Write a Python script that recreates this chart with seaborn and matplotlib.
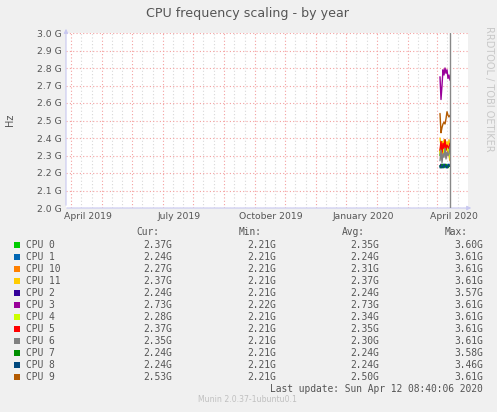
import numpy as np
import pandas as pd
import matplotlib
matplotlib.use('Agg')
import matplotlib.pyplot as plt
import seaborn as sns

# data (values in GHz, one point per day)
days = pd.date_range('2020-03-18', '2020-03-28', freq='D')
cpu_names = ['CPU 0', 'CPU 1', 'CPU 10', 'CPU 11', 'CPU 2', 'CPU 3',
             'CPU 4', 'CPU 5', 'CPU 6', 'CPU 7', 'CPU 8', 'CPU 9']
cpu_colors = ['#00cc00', '#0066b3', '#ff8000', '#ffcc00', '#330099', '#990099',
              '#ccff00', '#ff0000', '#808080', '#008f00', '#00487d', '#b35a00']
cpu0 = [2.30, 2.35, 2.38, 2.33, 2.36, 2.39, 2.34, 2.37, 2.35, 2.33, 2.37]
cpu1 = [2.24, 2.23, 2.24, 2.25, 2.24, 2.24, 2.23, 2.24, 2.25, 2.24, 2.24]
cpu10 = [2.33, 2.28, 2.35, 2.30, 2.32, 2.34, 2.29, 2.31, 2.33, 2.30, 2.27]
cpu11 = [2.40, 2.35, 2.38, 2.36, 2.39, 2.37, 2.36, 2.38, 2.35, 2.39, 2.37]
cpu2 = [2.24, 2.25, 2.23, 2.24, 2.24, 2.25, 2.24, 2.23, 2.24, 2.24, 2.24]
cpu3 = [2.75, 2.62, 2.70, 2.79, 2.76, 2.80, 2.77, 2.79, 2.74, 2.76, 2.73]
cpu4 = [2.32, 2.36, 2.33, 2.35, 2.31, 2.36, 2.34, 2.33, 2.35, 2.32, 2.28]
cpu5 = [2.33, 2.38, 2.32, 2.37, 2.34, 2.39, 2.33, 2.36, 2.35, 2.34, 2.37]
cpu6 = [2.27, 2.33, 2.26, 2.31, 2.29, 2.34, 2.28, 2.32, 2.30, 2.31, 2.35]
cpu7 = [2.24, 2.23, 2.25, 2.24, 2.23, 2.24, 2.25, 2.24, 2.23, 2.24, 2.24]
cpu8 = [2.23, 2.24, 2.24, 2.23, 2.25, 2.24, 2.24, 2.23, 2.24, 2.25, 2.24]
cpu9 = [2.54, 2.43, 2.46, 2.48, 2.49, 2.48, 2.51, 2.55, 2.53, 2.52, 2.53]
series = [cpu0, cpu1, cpu10, cpu11, cpu2, cpu3, cpu4, cpu5, cpu6, cpu7, cpu8, cpu9]

# legend table
cur_vals = ['2.37G', '2.24G', '2.27G', '2.37G', '2.24G', '2.73G',
            '2.28G', '2.37G', '2.35G', '2.24G', '2.24G', '2.53G']
min_vals = ['2.21G', '2.21G', '2.21G', '2.21G', '2.21G', '2.22G',
            '2.21G', '2.21G', '2.21G', '2.21G', '2.21G', '2.21G']
avg_vals = ['2.35G', '2.24G', '2.31G', '2.37G', '2.24G', '2.73G',
            '2.34G', '2.35G', '2.30G', '2.24G', '2.24G', '2.50G']
max_vals = ['3.60G', '3.61G', '3.61G', '3.61G', '3.57G', '3.61G',
            '3.61G', '3.61G', '3.61G', '3.58G', '3.46G', '3.61G']

yticks = np.round(np.arange(2.0, 3.01, 0.1), 1)
xtick_dates = pd.to_datetime(['2019-04-01', '2019-07-01', '2019-10-01', '2020-01-01', '2020-04-01'])
xtick_labels = ['April 2019', 'July 2019', 'October 2019', 'January 2020', 'April 2020']

rows = []
for name, vals in zip(cpu_names, series):
    for d, v in zip(days, vals):
        rows.append({'day': d, 'freq': v, 'cpu': name})
df = pd.DataFrame(rows)

sns.set_style('white')
plt.rcParams['font.family'] = ['DejaVu Sans']

fig = plt.figure(figsize=(4.97, 4.12), dpi=100, facecolor='#f0f0f0')
ax = fig.add_axes([66 / 497, 1 - 208 / 412, 402 / 497, 175 / 412])
ax.set_facecolor('white')

x0 = pd.Timestamp('2019-03-10')
x1 = pd.Timestamp('2020-04-15')

# grid like rrdtool: red dotted majors, grey dotted minors
for d in pd.date_range('2019-03-01', '2020-04-30', freq='MS'):
    for off, col in [(4, '#d8d8d8'), (24, '#d8d8d8'), (14, '#f4a0a0')]:
        t = d + pd.Timedelta(days=off)
        if x0 < t < x1:
            ax.axvline(t, color=col, lw=0.8, ls=(0, (1, 2)), zorder=1)
for y in yticks:
    ax.axhline(y, color='#f4a0a0', lw=0.8, ls=(0, (1, 2)), zorder=1)

sns.lineplot(data=df, x='day', y='freq', hue='cpu', palette=cpu_colors,
             hue_order=cpu_names, estimator=None, legend=False, lw=1.0, ax=ax, zorder=3)
ax.axvline(days[-1], color='#888888', lw=1.0, zorder=4)

ax.set_xlim(x0, x1)
ax.set_ylim(2.0, 3.0)
ax.set_yticks(yticks)
ax.set_yticklabels(['%.1f G' % v for v in yticks])
ax.set_xticks(xtick_dates)
ax.set_xticklabels(xtick_labels)
ax.tick_params(axis='both', labelsize=6.7, labelcolor='#555555', length=0, pad=3)
ax.set_xlabel('')
ax.set_ylabel('')
for s in ax.spines.values():
    s.set_visible(False)

# axis lines with arrow heads
axis_col = '#c8c8f0'
ax.annotate('', xy=(0, 1.04), xytext=(0, 0), xycoords='axes fraction',
            arrowprops=dict(arrowstyle='-|>', color=axis_col, lw=0.8, mutation_scale=6), annotation_clip=False)
ax.annotate('', xy=(1.015, 0), xytext=(-0.005, 0), xycoords='axes fraction',
            arrowprops=dict(arrowstyle='-|>', color=axis_col, lw=0.8, mutation_scale=6), annotation_clip=False)

fig.text(248 / 497, 1 - 13 / 412, 'CPU frequency scaling - by year', ha='center', va='center',
         fontsize=9.1, color='#555555')
fig.text(10 / 497, 1 - 120 / 412, 'Hz', ha='center', va='center', rotation=90, fontsize=7, color='#555555')
fig.text(489 / 497, 1 - 26 / 412, 'RRDTOOL / TOBI OETIKER', ha='center', va='top', rotation=270,
         fontsize=7, color='#c8c8c8')

# legend table in monospace
mono = {'family': 'DejaVu Sans Mono', 'size': 6.9, 'color': '#555555'}
hy = 1 - 232 / 412
fig.text(136 / 497, hy, 'Cur:', ha='left', va='center', fontdict=mono)
fig.text(239 / 497, hy, 'Min:', ha='left', va='center', fontdict=mono)
fig.text(342 / 497, hy, 'Avg:', ha='left', va='center', fontdict=mono)
fig.text(445 / 497, hy, 'Max:', ha='left', va='center', fontdict=mono)
for i, name in enumerate(cpu_names):
    yy = 244.5 + 12 * i
    fig.patches.append(plt.Rectangle((14 / 497, 1 - (yy + 3) / 412), 6 / 497, 6 / 412,
                                     transform=fig.transFigure, facecolor=cpu_colors[i], edgecolor='none'))
    fy = 1 - yy / 412
    fig.text(26 / 497, fy, name, ha='left', va='center', fontdict=mono)
    fig.text(172 / 497, fy, cur_vals[i], ha='right', va='center', fontdict=mono)
    fig.text(276 / 497, fy, min_vals[i], ha='right', va='center', fontdict=mono)
    fig.text(379 / 497, fy, avg_vals[i], ha='right', va='center', fontdict=mono)
    fig.text(483 / 497, fy, max_vals[i], ha='right', va='center', fontdict=mono)
fig.text(483 / 497, 1 - 388.5 / 412, 'Last update: Sun Apr 12 08:40:06 2020', ha='right', va='center',
         fontdict=mono)
fig.text(248 / 497, 1 - 400 / 412, 'Munin 2.0.37-1ubuntu0.1', ha='center', va='center',
         fontsize=5.6, color='#c0c0c0')

fig.savefig('out.png', dpi=100, facecolor=fig.get_facecolor())
